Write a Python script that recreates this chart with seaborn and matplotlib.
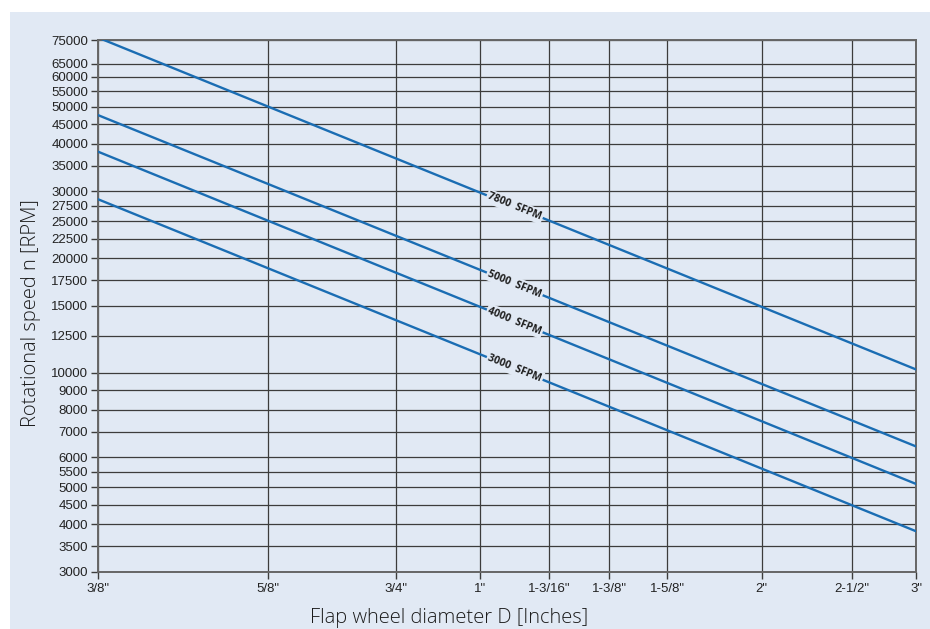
import numpy as np
import pandas as pd
import matplotlib
matplotlib.use("Agg")
import matplotlib.pyplot as plt
import seaborn as sns
from matplotlib.patches import Rectangle
from matplotlib.ticker import FixedLocator, NullLocator

# --- data (RPM at 3/8" and at 3") ---
diameters = [0.375, 3.0]
rpm_7800 = [76100, 10200]
rpm_5000 = [47600, 6400]
rpm_4000 = [38150, 5100]
rpm_3000 = [28600, 3830]
series_names = ["7800  SFPM", "5000  SFPM", "4000  SFPM", "3000  SFPM"]

x_ticks = [3/8, 5/8, 3/4, 1.0, 1 + 3/16, 1 + 3/8, 1 + 5/8, 2.0, 2.5, 3.0]
x_tick_labels = ['3/8"', '5/8"', '3/4"', '1"', '1-3/16"', '1-3/8"',
                 '1-5/8"', '2"', '2-1/2"', '3"']
# where each diameter sits along the axis (0..1), as printed on the chart
x_tick_pos = [0.0, 0.2081, 0.3638, 0.4668, 0.5515, 0.6248, 0.6957,
              0.8110, 0.9217, 1.0]
y_ticks = [3000, 3500, 4000, 4500, 5000, 5500, 6000, 7000, 8000, 9000,
           10000, 12500, 15000, 17500, 20000, 22500, 25000, 27500, 30000,
           35000, 40000, 45000, 50000, 55000, 60000, 65000, 75000]
label_x = 1.09

BG = "#e1e9f4"
LINE = "#1a6db3"
GRID = "#3c3c3c"

df = pd.concat([
    pd.DataFrame({"D": diameters, "rpm": vals, "sfpm": name})
    for name, vals in zip(series_names, [rpm_7800, rpm_5000, rpm_4000, rpm_3000])
])

sns.set_theme(style="white")
plt.rcParams["font.family"] = ["Liberation Sans", "DejaVu Sans"]

fig = plt.figure(figsize=(9.3, 6.29), dpi=100)
fig.add_artist(Rectangle((10 / 930, 0), 1, 1 - 12 / 629, transform=fig.transFigure,
                         facecolor=BG, edgecolor="none", zorder=-1))
ax = fig.add_axes([98 / 930, 1 - 571.7 / 629, 818.3 / 930, 531.7 / 629])
ax.set_facecolor(BG)

log_ticks = np.log(x_ticks)


def fwd(x):
    x = np.asarray(x, dtype=float)
    with np.errstate(divide="ignore", invalid="ignore"):
        lx = np.log(np.where(x > 0, x, 1e-9))
    return np.interp(lx, log_ticks, x_tick_pos, left=-1, right=2)


def inv(p):
    return np.exp(np.interp(p, x_tick_pos, log_ticks))


ax.set_xscale("function", functions=(fwd, inv))
ax.set_yscale("log")

sns.lineplot(data=df, x="D", y="rpm", hue="sfpm", units="sfpm", estimator=None,
             palette=[LINE] * 4, linewidth=1.7, legend=False, ax=ax, zorder=3)

ax.set_xlim(0.375, 3.0)
ax.set_ylim(3000, 75000)

ax.xaxis.set_major_locator(FixedLocator(x_ticks))
ax.xaxis.set_minor_locator(NullLocator())
ax.set_xticklabels(x_tick_labels)
ax.yaxis.set_major_locator(FixedLocator(y_ticks))
ax.yaxis.set_minor_locator(NullLocator())
ax.set_yticklabels([str(v) for v in y_ticks])
ax.tick_params(axis="both", which="major", direction="out", length=5, width=1,
               color=GRID, labelsize=9.5, labelcolor="#222222", pad=2,
               bottom=True, left=True)
ax.tick_params(axis="x", pad=3)
ax.grid(True, which="major", color=GRID, linewidth=0.9)
for s in ax.spines.values():
    s.set_color("#666666")
    s.set_linewidth(1.4)
ax.set_xlabel("")
ax.set_ylabel("")

# line labels, rotated along each line, hiding the line behind them
for name, vals in zip(series_names, [rpm_7800, rpm_5000, rpm_4000, rpm_3000]):
    p0 = ax.transData.transform((diameters[0], vals[0]))
    p1 = ax.transData.transform((diameters[1], vals[1]))
    px = ax.transData.transform((label_x, vals[0]))[0]
    t = (px - p0[0]) / (p1[0] - p0[0])
    py = p0[1] + t * (p1[1] - p0[1])
    lx, ly = ax.transData.inverted().transform((px, py))
    ang = np.degrees(np.arctan2(p1[1] - p0[1], p1[0] - p0[0]))
    ax.text(lx, ly, name, rotation=ang, rotation_mode="anchor", ha="center",
            va="center", fontsize=7.5, fontweight="bold", color="#1e1e1e",
            family=["Open Sans", "DejaVu Sans"], zorder=5,
            bbox=dict(facecolor=BG, edgecolor="none", pad=1.2))

fig.text(31 / 930, 1 - 313.5 / 629, "Rotational speed n [RPM]", rotation=90,
         ha="center", va="center", fontsize=14.5, color="#1c1c1c",
         family=["Open Sans", "DejaVu Sans"], fontweight="light")
fig.text(449.5 / 930, 1 - 623 / 629, "Flap wheel diameter D [Inches]",
         ha="center", va="baseline", fontsize=14.5, color="#1c1c1c",
         family=["Open Sans", "DejaVu Sans"], fontweight="light")

fig.savefig("out.png", dpi=100, facecolor="white")
